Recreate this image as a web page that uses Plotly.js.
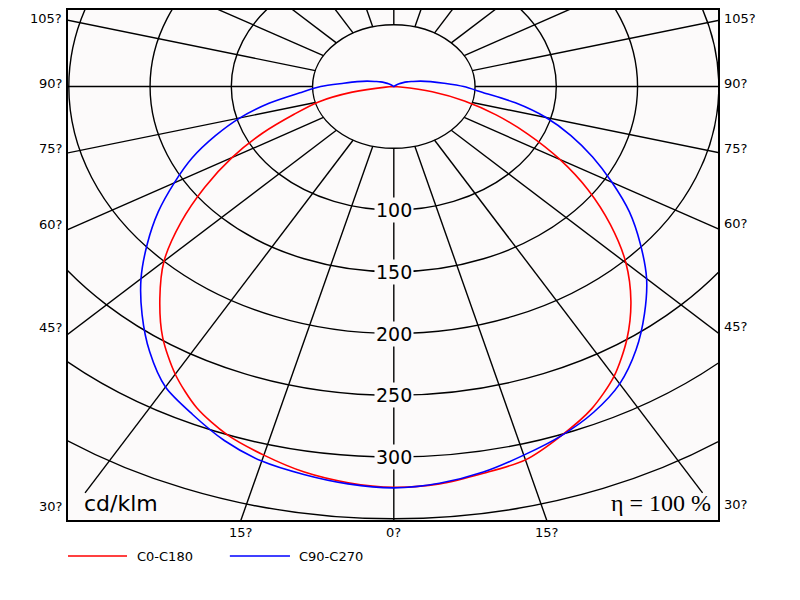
<!DOCTYPE html>
<html><head><meta charset="utf-8">
<script src="https://cdn.plot.ly/plotly-3.0.1.min.js"></script>
<style>html,body{margin:0;padding:0;background:#fff}</style>
</head><body><div id="chart" style="width:800px;height:600px"></div>
<script>
// gamma angle (degrees), negative = C180 / C270 side (left)
const gamma = [-140,-135,-130,-125,-120,-115,-110,-105,-100,-95,-90,-85,-80,-75,-70,-65,-60,-55,-50,-45,-40,-35,-30,-25,-20,-15,-10,-5,
  0,5,10,15,20,25,30,35,40,45,50,55,60,65,70,75,80,85,90,95,100,105,110,115,120,125,130,135,140];
// intensity in cd/klm
const c0c180 = [0,0,0,0,0,0,0,0,0,0,0,5,26,48,65,89,115,142,171,200,224,248,269,287,300,309,317,322,
  324.5,323,318,313,301,288,271,250,227,202,174,146,118,91,67,45,24,4,0,0,0,0,0,0,0,0,0,0,0];
const c90c270 = [0,1,2,4,6,9,12,17,23,31,45,58,78,98,117,137,156,177,198,220,241,262,281,293,305,314,319,323,
  325,322.5,317,309,301,291,278,260,240,220,198,177,155,135,116,97,76,55,43,31,23,17,12,9,6,4,2,1,0];
const seriesNames = ['C0-C180','C90-C270'];
const seriesColors = ['#ff0000','#0000ff'];

const ringRadii = [50,100,150,200,250,300,350];
const ringLabels = [100,150,200,250,300];
const spokeAngles = [0,15,30,45,60,75,90,105,120,135,150,165,180,195,210,225,240,255,270,285,300,315,330,345];
const spokeInner = 50, spokeOuter = 380;
const sideAngles = [105,90,75,60,45,30];
const sideLabels = ['105?','90?','75?','60?','45?','30?'];
const bottomAngles = [-15,0,15];
const bottomLabels = ['15?','0?','15?'];
const unitLabel = 'cd/klm';
const effLabel = 'η = 100 %';
const xRange = [-200.5, 199.5], yRange = [-351, 62];

const rad = d => d*Math.PI/180;
const px = (r,a) => r*Math.sin(rad(a));
const py = (r,a) => -r*Math.cos(rad(a));
const bg = '#fcfafa';

const traces = [c0c180, c90c270].map((vals,i) => ({
  type:'scatter', mode:'lines', name:seriesNames[i], showlegend:false,
  x: vals.map((r,k)=>px(r,gamma[k])), y: vals.map((r,k)=>py(r,gamma[k])),
  line:{color:seriesColors[i], width:1.6, shape:'spline', smoothing:0.8},
  hoverinfo:'skip'
}));

const shapes = [];
ringRadii.forEach(r => shapes.push({type:'circle', xref:'x', yref:'y', x0:-r, x1:r, y0:-r, y1:r,
  line:{color:'#000', width:1.4}, layer:'below'}));
spokeAngles.forEach(a => shapes.push({type:'line', xref:'x', yref:'y',
  x0:px(spokeInner,a), y0:py(spokeInner,a), x1:px(spokeOuter,a), y1:py(spokeOuter,a),
  line:{color:'#000', width:1.4}, layer:'below'}));

const annotations = [];
ringLabels.forEach(r => annotations.push({x:0, y:-r, xref:'x', yref:'y', text:String(r), showarrow:false,
  font:{family:'DejaVu Sans', size:19, color:'#000'}, bgcolor:bg, borderpad:1}));
const lblFont = {family:'DejaVu Sans', size:13, color:'#000'};
const labelInset = 0.986; // labels sit where the spoke meets a line just inside the frame
sideAngles.forEach((a,i) => {
  const t = Math.cos(rad(a))/Math.sin(rad(a));
  annotations.push({xref:'paper', x:0, xanchor:'right', xshift:-4, yref:'y', y:labelInset*xRange[0]*t, yanchor:'middle', yshift:3,
    text:sideLabels[i], showarrow:false, font:lblFont});
  annotations.push({xref:'paper', x:1, xanchor:'left', xshift:4, yref:'y', y:-labelInset*xRange[1]*t, yanchor:'middle', yshift:3,
    text:sideLabels[i], showarrow:false, font:lblFont});
});
bottomAngles.forEach((a,i) => annotations.push({xref:'x', x:-yRange[0]*Math.tan(rad(a)), yref:'paper', y:0, yanchor:'top', yshift:-3,
  text:bottomLabels[i], showarrow:false, font:lblFont}));
annotations.push({xref:'paper', yref:'paper', x:0.022, y:0.033, xanchor:'left', yanchor:'middle', text:unitLabel, showarrow:false,
  font:{family:'DejaVu Sans', size:22, color:'#000'}});
annotations.push({xref:'paper', yref:'paper', x:0.992, y:0.033, xanchor:'right', yanchor:'middle', text:effLabel, showarrow:false,
  font:{family:'"Liberation Serif", "DejaVu Serif", serif', size:24, color:'#000'}});

// manual legend
const legX = [[0,0.0908,0.103],[0.249,0.3415,0.352]];
seriesNames.forEach((n,i) => {
  shapes.push({type:'line', xref:'paper', yref:'paper', x0:legX[i][0], x1:legX[i][1], y0:-0.0706, y1:-0.0706,
    line:{color:seriesColors[i], width:1.6}});
  annotations.push({xref:'paper', yref:'paper', x:legX[i][2], y:-0.0706, xanchor:'left', yanchor:'middle', text:n,
    showarrow:false, font:{family:'DejaVu Sans', size:13, color:'#000'}});
});

const axisCommon = {showgrid:false, zeroline:false, showticklabels:false, ticks:'', showline:true, mirror:true,
  linecolor:'#000', linewidth:2, fixedrange:true};
const layout = {
  width:800, height:600, margin:{l:68, r:82, t:10, b:80},
  paper_bgcolor:'#fff', plot_bgcolor:bg,
  xaxis:Object.assign({range:xRange}, axisCommon),
  yaxis:Object.assign({range:yRange}, axisCommon),
  shapes, annotations, showlegend:false,
  font:{family:'DejaVu Sans', color:'#000'}
};
Plotly.newPlot('chart', traces, layout, {staticPlot:true, displayModeBar:false});
</script></body></html>
